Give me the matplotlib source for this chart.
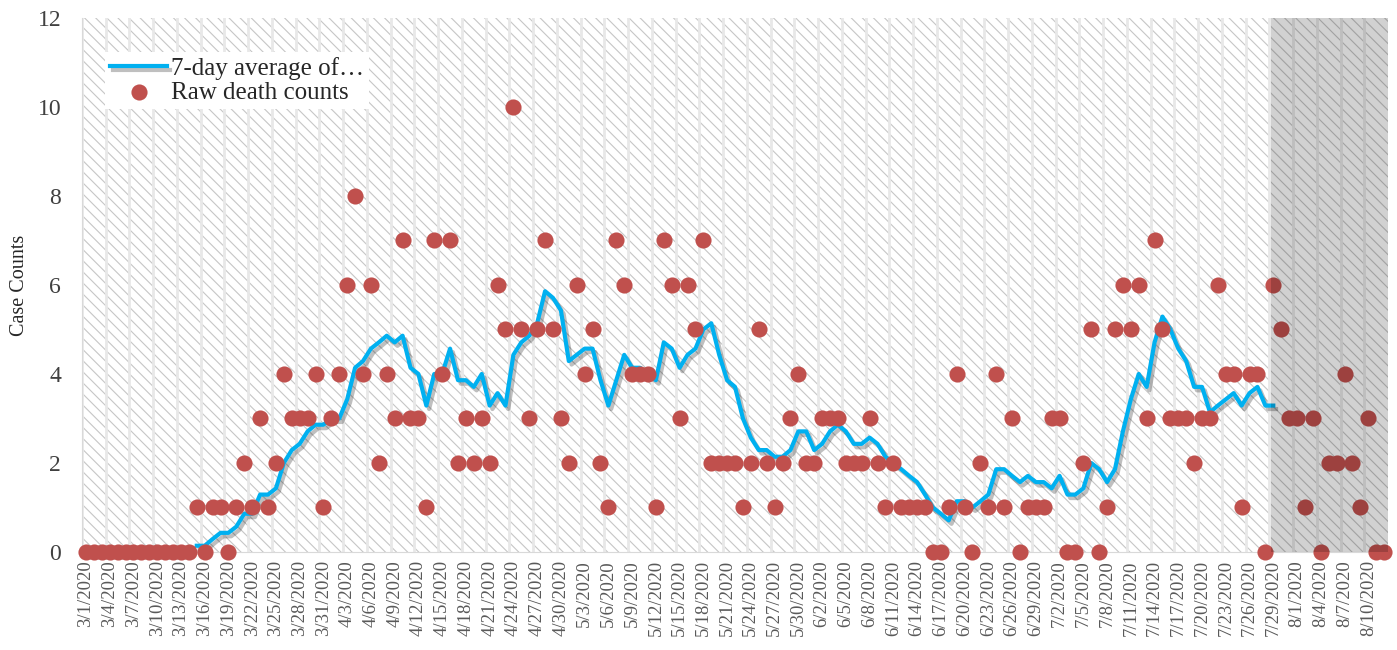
import datetime as dt
import matplotlib
matplotlib.use("Agg")
import matplotlib.pyplot as plt
import matplotlib.patheffects as pe
from matplotlib.patches import Rectangle

plt.rcParams["font.family"] = ["Liberation Serif", "DejaVu Serif"]
plt.rcParams["hatch.linewidth"] = 0.8

# daily raw death counts, 3/1/2020 .. 8/12/2020
raw_mar = [0, 0, 0, 0, 0, 0, 0, 0, 0, 0, 0, 0, 0, 0, 1, 0, 1, 1, 0, 1,
           2, 1, 3, 1, 2, 4, 3, 3, 3, 4, 1]
raw_apr = [3, 4, 6, 8, 4, 6, 2, 4, 3, 7, 3, 3, 1, 7, 4, 7, 2, 3, 2, 3,
           2, 6, 5, 10, 5, 3, 5, 7, 5, 3]
raw_may = [2, 6, 4, 5, 2, 1, 7, 6, 4, 4, 4, 1, 7, 6, 3, 6, 5, 7, 2, 2,
           2, 2, 1, 2, 5, 2, 1, 2, 3, 4, 2]
raw_jun = [2, 3, 3, 3, 2, 2, 2, 3, 2, 1, 2, 1, 1, 1, 1, 0, 0, 1, 4, 1,
           0, 2, 1, 4, 1, 3, 0, 1, 1, 1]
raw_jul = [3, 3, 0, 0, 2, 5, 0, 1, 5, 6, 5, 6, 3, 7, 5, 3, 3, 3, 2, 3,
           3, 6, 4, 4, 1, 4, 4, 0, 6, 5, 3]
raw_aug = [3, 1, 3, 0, 2, 2, 4, 2, 1, 3, 0, 0]
raw_deaths = raw_mar + raw_apr + raw_may + raw_jun + raw_jul + raw_aug

# 7-day average as drawn, 3/15/2020 .. 7/29/2020
avg_start = 14
avg_7day = [0.14, 0.14, 0.29, 0.43, 0.43, 0.57, 0.86, 0.86, 1.29, 1.29,
            1.43, 2.0, 2.29, 2.43, 2.71, 2.86, 2.86,
            3.0, 3.0, 3.43, 4.14, 4.29, 4.57, 4.71, 4.86, 4.71, 4.86,
            4.14, 4.0, 3.29, 4.0, 4.0, 4.57, 3.86, 3.86, 3.71, 4.0,
            3.29, 3.57, 3.29, 4.43, 4.71, 4.86, 5.14, 5.86, 5.71, 5.43,
            4.29, 4.43, 4.57, 4.57, 3.86, 3.29, 3.86, 4.43, 4.14, 4.14,
            4.0, 3.86, 4.71, 4.57, 4.14, 4.43, 4.57, 5.0, 5.14, 4.43,
            3.86, 3.71, 3.0, 2.57, 2.29, 2.29, 2.14, 2.14, 2.29, 2.71, 2.71,
            2.29, 2.43, 2.71, 2.86, 2.71, 2.43, 2.43, 2.57, 2.43, 2.14,
            2.0, 1.86, 1.71, 1.57, 1.29, 1.0, 0.86, 0.71, 1.14, 1.14,
            1.0, 1.14, 1.29, 1.86, 1.86, 1.71, 1.57, 1.71, 1.57, 1.57,
            1.43, 1.71, 1.29, 1.29, 1.43, 2.0, 1.86, 1.57, 1.86, 2.71,
            3.43, 4.0, 3.71, 4.71, 5.29, 5.0, 4.57, 4.29, 3.71, 3.71,
            3.14, 3.29, 3.43, 3.57, 3.29, 3.57, 3.71, 3.29, 3.29]

shade_from = 149.7  # greyed-out recent period

start = dt.date(2020, 3, 1)
dates = [start + dt.timedelta(days=i) for i in range(len(raw_deaths))]
date_labels = [f"{d.month}/{d.day}/{d.year}" for d in dates]
x = list(range(len(raw_deaths)))

fig = plt.figure(figsize=(13.97, 6.5), dpi=100)
ax = fig.add_axes([0.0587, 0.1508, 0.9349, 0.8215])
ax.set_xlim(-0.5, len(raw_deaths) - 0.5)
ax.set_ylim(0, 12)

# hatched plot area
ax.add_patch(Rectangle((0, 0), 1, 1, transform=ax.transAxes, facecolor="white",
                       edgecolor="#C6C6C6", hatch="\\\\\\", lw=0, zorder=0))
ax.set_xticks([i - 0.5 for i in range(0, len(raw_deaths), 3)], minor=True)
ax.grid(True, which="minor", axis="x", color="#E8E8E8", lw=2.0)
ax.set_axisbelow(True)

ax.plot(range(avg_start, avg_start + len(avg_7day)), avg_7day, color="#00B0F0",
        lw=3.0, solid_joinstyle="round", zorder=3, label="7-day average of…",
        path_effects=[pe.SimpleLineShadow(offset=(2, -2.5), shadow_color="black", alpha=0.25),
                      pe.Normal()])
ax.scatter(x, raw_deaths, s=135, color="#C0504D", zorder=4, clip_on=False,
           linewidths=0, label="Raw death counts")

ax.axvspan(shade_from, len(raw_deaths) - 0.5, facecolor="black", alpha=0.18, lw=0, zorder=5)

ax.set_xticks(x[::3])
ax.set_xticklabels(date_labels[::3], rotation=90, fontsize=13.5, color="#595959")
ax.set_yticks(range(0, 13, 2))
ax.tick_params(axis="y", labelsize=17, labelcolor="#404040", length=0, pad=15)
ax.tick_params(axis="x", which="both", length=0, pad=6)
for s in ["top", "right"]:
    ax.spines[s].set_visible(False)
ax.spines["left"].set_color("#D9D9D9")
ax.spines["bottom"].set_color("#D9D9D9")

fig.text(20 / 1397, 1 - 285 / 650, "Case Counts", rotation=90, va="center", ha="center",
         fontsize=14.5, color="#262626")

leg = ax.legend(loc="upper left", bbox_to_anchor=(0.0176, 0.936), borderaxespad=0,
                frameon=True, fancybox=False, fontsize=18, handlelength=2.3,
                handletextpad=0.15, labelspacing=0.05, borderpad=0.2, scatterpoints=1)
leg.get_frame().set_facecolor("white")
leg.get_frame().set_edgecolor("none")
leg.get_frame().set_alpha(1)
for t in leg.get_texts():
    t.set_color("#262626")

fig.savefig("out.png", dpi=100)
